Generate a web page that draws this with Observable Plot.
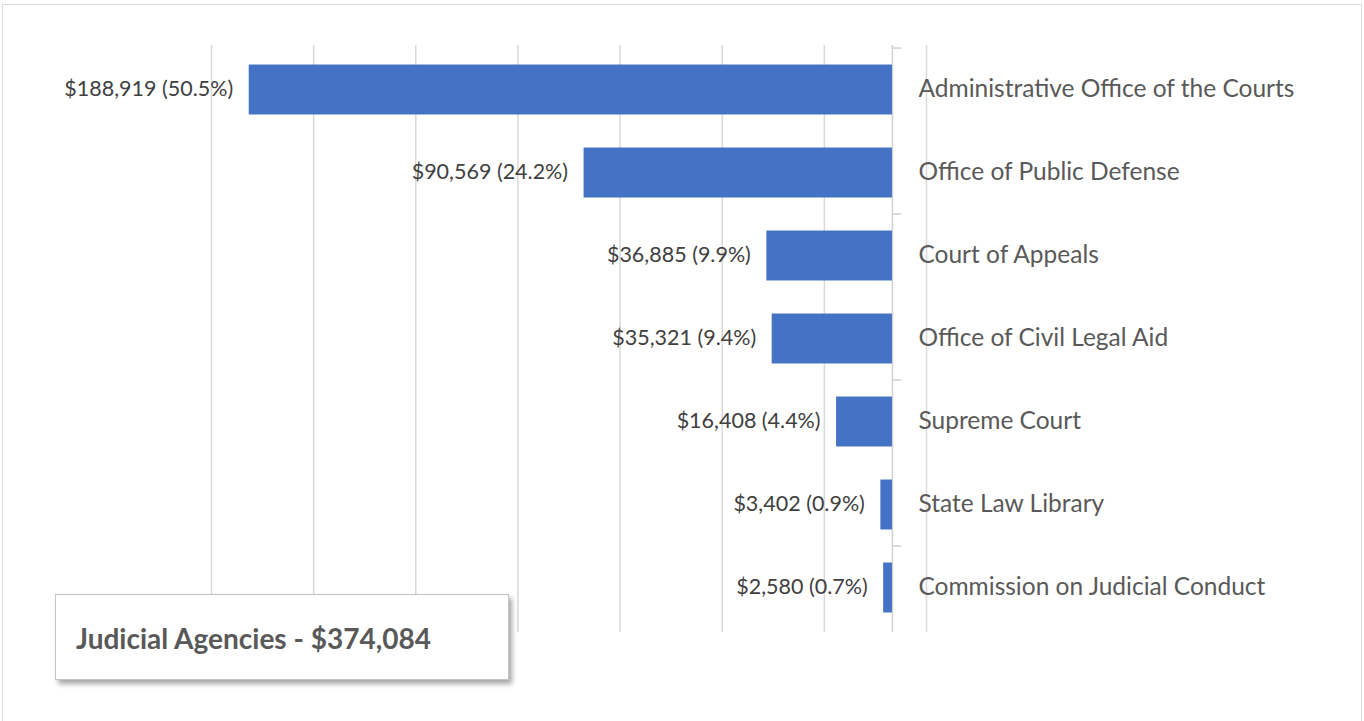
<!DOCTYPE html>
<html>
<head>
<meta charset="utf-8">
<script src="https://cdn.jsdelivr.net/npm/d3@7"></script>
<script src="https://cdn.jsdelivr.net/npm/@observablehq/plot@0.6"></script>
<style>
  html, body { margin: 0; padding: 0; background: #fff; }
  #wrap { position: relative; width: 1364px; height: 721px; overflow: hidden; font-family: Lato, "Noto Sans", sans-serif; }
  #frame { position: absolute; left: 2px; top: 4px; width: 1360px; height: 740px; border: 1.5px solid #dcdcdc; box-sizing: border-box; pointer-events: none; }
  #titlebox { position: absolute; left: 55px; top: 594px; width: 454px; height: 86px; box-sizing: border-box;
    border: 1px solid #c4c4c4; background: #fff; box-shadow: 3px 4px 5px rgba(0,0,0,0.35);
    display: flex; align-items: center; padding-left: 20px; padding-top: 2px; font-weight: bold; font-size: 28px; color: #595959; }
  svg { display: block; }
</style>
</head>
<body>
<div id="wrap">
  <div id="chart"></div>
  <div id="frame"></div>
  <div id="titlebox"></div>
</div>
<script>
const categories = [
  "Administrative Office of the Courts",
  "Office of Public Defense",
  "Court of Appeals",
  "Office of Civil Legal Aid",
  "Supreme Court",
  "State Law Library",
  "Commission on Judicial Conduct"
];
const amounts = [188919, 90569, 36885, 35321, 16408, 3402, 2580];
const shares = [50.5, 24.2, 9.9, 9.4, 4.4, 0.9, 0.7];
const gridTicks = [-10000, 20000, 50000, 80000, 110000, 140000, 170000, 200000];
const titleLabel = "Judicial Agencies";
const totalAmount = 374084;

const fmt = d3.format(",");
const data = categories.map((c, i) => ({category: c, amount: amounts[i], share: shares[i]}));

const W = 1364, H = 721, mTop = 45, mBottom = 89, mLeft = 211, mRight = 438;
const step = (H - mTop - mBottom) / categories.length;
const barInset = step * 0.197;

const chart = Plot.plot({
  width: W,
  height: H,
  marginTop: mTop,
  marginBottom: mBottom,
  marginLeft: mLeft,
  marginRight: mRight,
  x: {domain: [-10000, 200000], reverse: true, axis: null},
  y: {domain: categories, padding: 0, axis: null},
  style: {fontFamily: "Lato, 'Noto Sans', sans-serif", background: "transparent", overflow: "visible"},
  marks: [
    Plot.ruleX(gridTicks, {stroke: "#d9d9d9", strokeWidth: 1.5}),
    Plot.ruleX([0], {stroke: "#d0d0d0", strokeWidth: 1.5}),
    Plot.ruleY(categories.filter((d, i) => i % 2 === 0), {
      y: d => d, x1: () => 0, x2: () => -2700, dy: -step / 2, stroke: "#d0d0d0", strokeWidth: 1.5
    }),
    Plot.barX(data, {x: "amount", y: "category", fill: "#4472C4", insetTop: barInset, insetBottom: barInset}),
    Plot.text(data, {
      x: "amount", y: "category",
      text: d => `$${fmt(d.amount)} (${d.share.toFixed(1)}%)`,
      textAnchor: "end", dx: -16, dy: -1, fontSize: 21.5, fill: "#404040"
    }),
    Plot.text(data, {
      x: () => 0, y: "category", text: "category",
      textAnchor: "start", dx: 26, dy: -1, fontSize: 24.5, fill: "#595959"
    })
  ]
});
document.getElementById("chart").appendChild(chart);
document.getElementById("titlebox").textContent = `${titleLabel} - $${fmt(totalAmount)}`;
</script>
</body>
</html>
